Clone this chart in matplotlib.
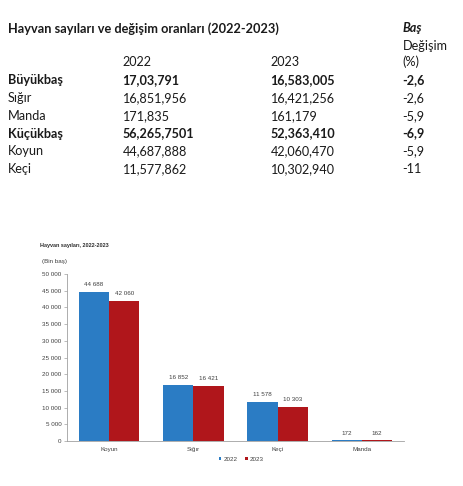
import matplotlib
matplotlib.use("Agg")
from matplotlib import pyplot as plt
from matplotlib.ticker import FuncFormatter

W, H = 463, 486

# table data
table_title = "Hayvan sayıları ve değişim oranları (2022-2023)"
row_labels = ["Büyükbaş", "Sığır", "Manda", "Küçükbaş", "Koyun", "Keçi"]
row_2022 = ["17,03,791", "16,851,956", "171,835", "56,265,7501", "44,687,888", "11,577,862"]
row_2023 = ["16,583,005", "16,421,256", "161,179", "52,363,410", "42,060,470", "10,302,940"]
row_change = ["-2,6", "-2,6", "-5,9", "-6,9", "-5,9", "-11"]
row_bold = [True, False, False, True, False, False]

# chart data (bin baş)
categories = ["Koyun", "Sığır", "Keçi", "Manda"]
values_2022 = [44688, 16852, 11578, 172]
values_2023 = [42060, 16421, 10303, 162]
series_names = ["2022", "2023"]

blue = "#2b7cc4"
red = "#b0161b"


def px(x, y):
    # pixel position (from top-left) -> figure fraction
    return x / W, 1 - y / H


fig = plt.figure(figsize=(W / 100, H / 100), dpi=100)

# --- table part ---
tfont = "Lato"
tsize = 9.1
tcolor = "#1a1a1a"
col_x = [8, 122.5, 270.5, 402.5]

fig.text(*px(col_x[0], 32.5), table_title, fontsize=tsize + 0.1, fontweight="bold",
         family=tfont, color=tcolor, va="baseline")
fig.text(*px(col_x[3], 32.5), "Baş", fontsize=tsize, fontweight="bold", style="italic",
         family=tfont, color=tcolor, va="baseline")
fig.text(*px(col_x[3], 49.5), "Değişim", fontsize=tsize, family=tfont, color=tcolor, va="baseline")
fig.text(*px(col_x[1], 66.5), "2022", fontsize=tsize, family=tfont, color=tcolor, va="baseline")
fig.text(*px(col_x[2], 66.5), "2023", fontsize=tsize, family=tfont, color=tcolor, va="baseline")
fig.text(*px(col_x[3], 66.5), "(%)", fontsize=tsize, family=tfont, color=tcolor, va="baseline")

row_y0, row_step = 84, 17.85
for i, label in enumerate(row_labels):
    y = row_y0 + i * row_step
    weight = "bold" if row_bold[i] else "normal"
    for x, txt in zip(col_x, [label, row_2022[i], row_2023[i], row_change[i]]):
        fig.text(*px(x, y), txt, fontsize=tsize, fontweight=weight, family=tfont,
                 color=tcolor, va="baseline")

# --- bar chart part ---
cfont = "Liberation Sans"
csize = 4.5
ccolor = "#404040"

left, right = 67, 404
top, bottom = 274, 441
ax = fig.add_axes([left / W, 1 - bottom / H, (right - left) / W, (bottom - top) / H])

x = list(range(len(categories)))
bw = 0.36
bars1 = ax.bar([i - bw / 2 for i in x], values_2022, width=bw, color=blue, label=series_names[0])
bars2 = ax.bar([i + bw / 2 for i in x], values_2023, width=bw, color=red, label=series_names[1])

fmt = lambda v: f"{int(round(v)):,}".replace(",", " ")
for bars in (bars1, bars2):
    for b in bars:
        ax.annotate(fmt(b.get_height()), (b.get_x() + b.get_width() / 2, b.get_height()),
                    xytext=(0, 3.5), textcoords="offset points", ha="center", va="bottom",
                    fontsize=csize, family=cfont, color=ccolor)

ax.set_xlim(-0.5, 3.5)
ax.set_ylim(0, 50000)
ax.set_yticks(range(0, 50001, 5000))
ax.yaxis.set_major_formatter(FuncFormatter(lambda v, p: fmt(v)))
ax.set_xticks(x)
ax.set_xticklabels(categories)
ax.tick_params(axis="y", labelsize=csize, labelcolor=ccolor, length=2, width=0.5,
               color="#a0a0a0", pad=2)
ax.tick_params(axis="x", labelsize=csize, labelcolor=ccolor, length=0, pad=4)
for lbl in ax.get_xticklabels() + ax.get_yticklabels():
    lbl.set_family(cfont)

for side in ("top", "right"):
    ax.spines[side].set_visible(False)
for side in ("left", "bottom"):
    ax.spines[side].set_color("#a0a0a0")
    ax.spines[side].set_linewidth(0.6)

fig.text(*px(40.5, 247), "Hayvan sayıları, 2022-2023", fontsize=4.0, fontweight="bold",
         family=cfont, color="#303030", va="baseline")
fig.text(*px(42, 263), "(Bin baş)", fontsize=csize, family=cfont, color=ccolor, va="baseline")

leg = fig.legend(loc="center", bbox_to_anchor=px(241, 459), ncol=2, frameon=False,
                 prop={"family": cfont, "size": csize}, handlelength=0.45, handleheight=0.45,
                 handletextpad=0.3, columnspacing=1.2)
for t in leg.get_texts():
    t.set_color(ccolor)

fig.savefig("out.png", dpi=100)
